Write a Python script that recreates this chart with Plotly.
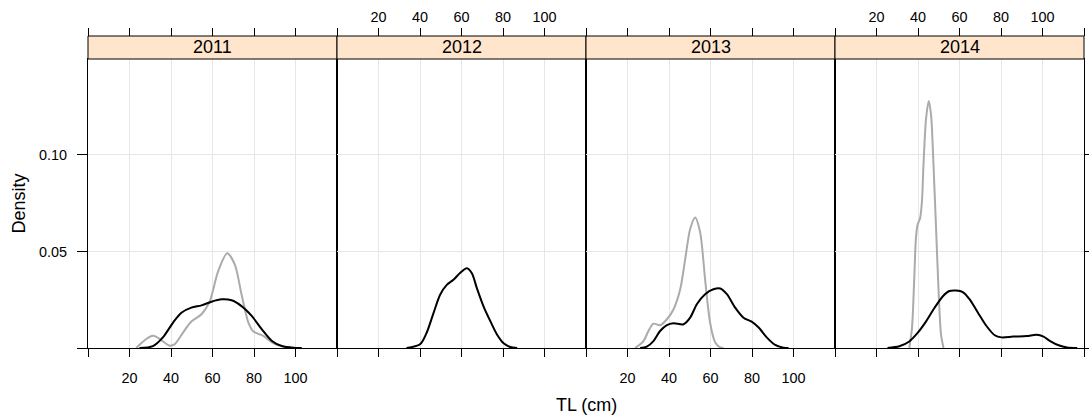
import plotly.graph_objects as go

# ---------------- data ----------------
years = ["2011", "2012", "2013", "2014"]

x_ticks = [0, 20, 40, 60, 80, 100, 120]
x_tick_labels = ["", "20", "40", "60", "80", "100", ""]
y_ticks = [0, 0.05, 0.10]
y_tick_labels = ["", "0.05", "0.10"]

# grey density curves (TL in cm, density)
grey_2011_x = [23.2, 31.3, 39.4, 41.8, 45.8, 49.8, 54.7, 58.7, 62.7, 67.1, 70.8, 74.0, 77.3, 79.7, 84.5, 89.4, 94.2, 99.0]
grey_2011_y = [0.0, 0.0063, 0.0012, 0.0020, 0.0080, 0.0137, 0.0175, 0.0243, 0.0397, 0.0491, 0.0431, 0.0277, 0.0132, 0.0086, 0.0063, 0.0024, 0.0007, 0.0]

grey_2012_x = []
grey_2012_y = []

grey_2013_x = [23.7, 27.7, 30.1, 32.5, 35.7, 39.0, 42.2, 45.4, 47.8, 50.2, 52.6, 55.0, 57.4, 59.8, 62.3, 64.7, 66.3]
grey_2013_y = [0.0, 0.0036, 0.0088, 0.0126, 0.0118, 0.0149, 0.0201, 0.0304, 0.0460, 0.0616, 0.0676, 0.0599, 0.0356, 0.0131, 0.0028, 0.0003, 0.0]

grey_2014_x = [35.8, 37.1, 38.2, 39.0, 39.8, 41.0, 41.9, 42.7, 43.9, 45.2, 46.3, 47.4, 48.7, 50.0, 51.1, 52.3]
grey_2014_y = [0.0, 0.0103, 0.0362, 0.0569, 0.0638, 0.0672, 0.0759, 0.0965, 0.1190, 0.1280, 0.1207, 0.0965, 0.0621, 0.0276, 0.0069, 0.0]

# black density curves
black_2011_x = [24.8, 31.3, 36.1, 41.0, 45.0, 49.8, 54.7, 59.5, 64.4, 69.2, 74.0, 78.9, 83.7, 88.5, 93.4, 99.0, 103.0]
black_2011_y = [0.0, 0.0010, 0.0055, 0.0132, 0.0183, 0.0209, 0.0221, 0.0240, 0.0252, 0.0247, 0.0217, 0.0166, 0.0098, 0.0038, 0.0010, 0.0001, 0.0]

black_2012_x = [33.5, 40.0, 43.2, 46.5, 49.7, 52.9, 56.1, 59.4, 62.6, 65.0, 67.4, 70.6, 73.9, 77.1, 80.3, 83.5, 86.8]
black_2012_y = [0.0, 0.0019, 0.0079, 0.0181, 0.0276, 0.0327, 0.0353, 0.0390, 0.0413, 0.0387, 0.0310, 0.0216, 0.0139, 0.0070, 0.0024, 0.0005, 0.0]

black_2013_x = [26.1, 29.3, 32.5, 35.7, 39.0, 42.2, 47.0, 50.2, 53.4, 57.4, 61.4, 64.7, 67.9, 71.9, 75.9, 80.0, 83.2, 87.2, 91.2, 95.2, 97.6]
black_2013_y = [0.0, 0.0007, 0.0036, 0.0088, 0.0119, 0.0128, 0.0123, 0.0157, 0.0227, 0.0279, 0.0304, 0.0308, 0.0279, 0.0209, 0.0157, 0.0135, 0.0106, 0.0054, 0.0016, 0.0002, 0.0]

black_2014_x = [25.3, 31.0, 35.8, 39.8, 43.9, 47.9, 51.9, 55.1, 58.4, 61.6, 64.9, 68.9, 73.0, 77.0, 80.2, 85.9, 92.4, 97.2, 100.5, 103.7, 107.8, 111.8, 116.7]
black_2014_y = [0.0, 0.0009, 0.0034, 0.0078, 0.0138, 0.0207, 0.0267, 0.0295, 0.0298, 0.0290, 0.0252, 0.0183, 0.0114, 0.0066, 0.0055, 0.0059, 0.0062, 0.0069, 0.0059, 0.0036, 0.0014, 0.0003, 0.0]

grey_x = [grey_2011_x, grey_2012_x, grey_2013_x, grey_2014_x]
grey_y = [grey_2011_y, grey_2012_y, grey_2013_y, grey_2014_y]
black_x = [black_2011_x, black_2012_x, black_2013_x, black_2014_x]
black_y = [black_2011_y, black_2012_y, black_2013_y, black_2014_y]

# ---------------- figure ----------------
W, H = 1089, 418
M_L, M_R, M_T, M_B = 88, 5, 36, 70
plot_h = H - M_T - M_B
strip_h = 23
panel_top = (plot_h - strip_h) / plot_h
y_range = [0, 0.1497]
x_range = [0, 120]

FONT = "Liberation Sans, Arial, Helvetica, sans-serif"
GRID = "#e6e6e6"
GREY = "#ababab"
TICK_FS = 14.4
TEXT_FS = 18

fig = go.Figure()
n = len(years)
for k in range(n):
    xa = "x" if k == 0 else f"x{k+1}"
    ya = "y" if k == 0 else f"y{k+1}"
    if grey_x[k]:
        fig.add_trace(go.Scatter(x=grey_x[k], y=grey_y[k], xaxis=xa, yaxis=ya, mode="lines",
                                 line=dict(color=GREY, width=2, shape="spline", smoothing=0.8),
                                 showlegend=False, hoverinfo="skip"))
    fig.add_trace(go.Scatter(x=black_x[k], y=black_y[k], xaxis=xa, yaxis=ya, mode="lines",
                             line=dict(color="#000000", width=2, shape="spline", smoothing=0.8),
                             showlegend=False, hoverinfo="skip"))
    # dummy trace for the top (overlaying) axis
    fig.add_trace(go.Scatter(x=[None], y=[None], xaxis=f"x{k+1+n}", yaxis=ya, mode="lines",
                             showlegend=False, hoverinfo="skip"))

layout = dict(
    width=W, height=H,
    margin=dict(l=M_L, r=M_R, t=M_T, b=M_B, pad=0, autoexpand=False),
    paper_bgcolor="white", plot_bgcolor="white",
    font=dict(family=FONT, size=12, color="#000000"),
    showlegend=False,
)

shapes = []
annotations = []
for k in range(n):
    d0, d1 = k / n, (k + 1) / n
    xkey = "xaxis" if k == 0 else f"xaxis{k+1}"
    ykey = "yaxis" if k == 0 else f"yaxis{k+1}"
    xa = "x" if k == 0 else f"x{k+1}"
    ya = "y" if k == 0 else f"y{k+1}"
    bottom_labels = (k % 2 == 0)
    layout[xkey] = dict(
        domain=[d0, d1], range=x_range, anchor=ya, automargin=False,
        tickmode="array", tickvals=x_ticks,
        ticktext=x_tick_labels if bottom_labels else [""] * len(x_ticks),
        ticks="outside", ticklen=8, tickwidth=1, tickcolor="#000000",
        ticklabelstandoff=9,
        showline=True, linecolor="#000000", linewidth=1, mirror=True,
        showgrid=True, gridcolor=GRID, gridwidth=1, zeroline=False,
        tickfont=dict(size=TICK_FS, family=FONT, color="#000000"),
        fixedrange=True,
    )
    layout[f"xaxis{k+1+n}"] = dict(
        overlaying=xa, side="top", anchor="free", position=1, automargin=False,
        range=x_range, tickmode="array", tickvals=x_ticks,
        ticktext=x_tick_labels if not bottom_labels else [""] * len(x_ticks),
        ticks="outside", ticklen=8, tickwidth=1, tickcolor="#000000",
        showline=False, showgrid=False, zeroline=False,
        tickfont=dict(size=TICK_FS, family=FONT, color="#000000"),
        fixedrange=True,
    )
    yax = dict(
        domain=[0, panel_top], range=y_range, anchor=xa, automargin=False,
        tickmode="array", tickvals=y_ticks,
        showline=True, linecolor="#000000", linewidth=1, mirror=True,
        showgrid=True, gridcolor=GRID, gridwidth=1, zeroline=False,
        tickfont=dict(size=TICK_FS, family=FONT, color="#000000"),
        fixedrange=True,
    )
    if k == 0:
        yax.update(ticktext=y_tick_labels, ticks="outside", ticklen=10, tickwidth=1, tickcolor="#000000",
                   ticklabelstandoff=7)
    elif k == n - 1:
        yax.update(side="right", ticktext=[""] * len(y_ticks), ticks="outside", ticklen=10,
                   tickwidth=1, tickcolor="#000000")
    else:
        yax.update(ticks="", showticklabels=False)
    layout[ykey] = yax

    # strip
    shapes.append(dict(type="rect", xref="paper", yref="paper", x0=d0, x1=d1, y0=panel_top, y1=1,
                       fillcolor="#ffe5cc", line=dict(color="#000000", width=1), layer="above"))
    annotations.append(dict(text=years[k], xref="paper", yref="paper", x=(d0 + d1) / 2,
                            y=(panel_top + 1) / 2, showarrow=False, xanchor="center", yanchor="middle",
                            font=dict(size=TEXT_FS, family=FONT, color="#000000")))

annotations.append(dict(text="Density", xref="paper", yref="paper", x=-(M_L - 18) / (W - M_L - M_R),
                        y=panel_top / 2, textangle=-90, showarrow=False, xanchor="center", yanchor="middle",
                        font=dict(size=TEXT_FS, family=FONT, color="#000000")))
annotations.append(dict(text="TL (cm)", xref="paper", yref="paper", x=0.5, y=-(405 - (H - M_B)) / plot_h,
                        showarrow=False, xanchor="center", yanchor="middle",
                        font=dict(size=TEXT_FS, family=FONT, color="#000000")))

layout["shapes"] = shapes
layout["annotations"] = annotations
fig.update_layout(**layout)

fig.write_html("out.html", config={"displayModeBar": False},
               post_script="document.body.style.margin='0';document.body.style.padding='0';")
